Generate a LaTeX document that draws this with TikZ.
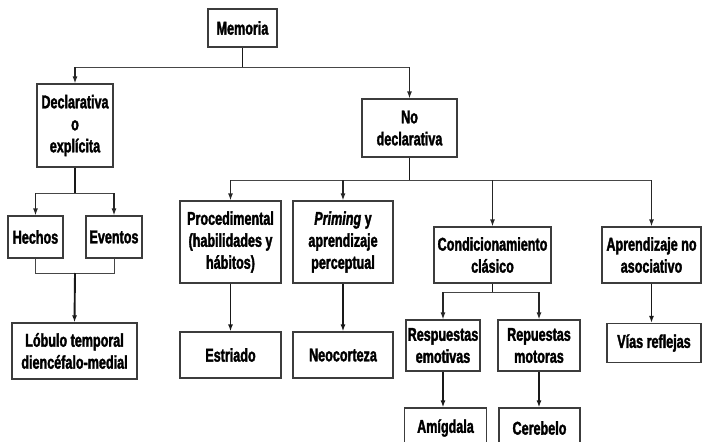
\documentclass[tikz,border=0pt]{standalone}
\usepackage{fontspec}
\newfontfamily\condfont{Liberation Sans}[FakeStretch=0.68,
  BoldFeatures={FakeBold=1.8}, BoldItalicFeatures={FakeBold=1.8}]
\usetikzlibrary{arrows.meta, positioning, calc}
\definecolor{boxline}{RGB}{60,60,60}
\definecolor{busline}{RGB}{70,70,70}
\tikzset{
  box/.style={rectangle, draw=boxline, line width=1.2pt, fill=white,
              inner sep=0pt, align=center,
              font=\condfont\bfseries\fontsize{18.5}{22}\selectfont},
  size/.style 2 args={minimum width=#1pt, minimum height=#2pt},
  stem/.style={line width=1.9pt, draw=black!90},
  bus/.style={line width=1pt, draw=busline},
  drop/.style={line width=1.2pt, draw=black!85, -{Latex[length=7pt,width=5pt]}},
  stemarrow/.style={stem, -{Latex[length=7pt,width=5pt]}},
}

\begin{document}
\begin{tikzpicture}[x=1pt, y=-1pt]
        \useasboundingbox (0,0) rectangle (702,442);
        \clip (0,0) rectangle (702,442);

        % Top level
        \node[box, size={69}{38}] (mem) at (242.5,28) {Memoria};
        \node[box, size={76}{83}] (decl) at (75,125.5) {Declarativa\\o\\expl\'icita};
        \node[box, size={95}{58}] (nodecl) at (409.5,128) {No\\declarativa};

        % Declarative branch
        \node[box, size={55}{42}] (hechos) at (35.5,237) {Hechos};
        \node[box, size={56}{42}] (eventos) at (114,237) {Eventos};
        \node[box, size={125}{56}] (lobulo) at (74.5,351) {L\'obulo temporal\\dienc\'efalo-medial};

        % Non-declarative branch
        \node[box, size={101}{82}] (proc) at (230.5,242) {Procedimental\\(habilidades y\\h\'abitos)};
        \node[box, size={100}{82}] (prim) at (343,242) {\textit{Priming} y\\aprendizaje\\perceptual};
        \node[box, size={117}{56}] (cond) at (492.5,255) {Condicionamiento\\cl\'asico};
        \node[box, size={99}{56}] (aprend) at (651.5,255) {Aprendizaje no\\asociativo};

        \node[box, size={101}{46}] (estr) at (230.5,355) {Estriado};
        \node[box, size={100}{46}] (neo) at (343,355) {Neocorteza};
        \node[box, size={74}{51}] (resp) at (443,345.5) {Respuestas\\emotivas};
        \node[box, size={82}{51}] (mot) at (539,345.5) {Repuestas\\motoras};
        \node[box, size={94}{39}] (vias) at (654,343) {V\'ias reflejas};

        \node[box, size={82}{40}] (amig) at (445.5,428) {Am\'igdala};
        \node[box, size={81}{40}] (cereb) at (539.5,428) {Cerebelo};

        % Junction points
        \coordinate (b1) at (242.5,67);
        \coordinate (b2) at (75,193);
        \coordinate (j2) at (75,273);
        \coordinate (b3) at (409.5,180);
        \coordinate (b4) at (492.5,292);

        % Memoria -> declarativa / no declarativa
        \draw[stem] (mem.south) -- (b1);
        \draw[bus] (decl.north |- b1) -- (nodecl.north |- b1);
        \draw[drop] (decl.north |- b1) -- (decl.north);
        \draw[drop] (nodecl.north |- b1) -- (nodecl.north);

        % Declarativa -> hechos / eventos -> lobulo
        \draw[stem] (decl.south) -- (b2);
        \draw[bus] (hechos.north |- b2) -- (eventos.north |- b2);
        \draw[drop] (hechos.north |- b2) -- (hechos.north);
        \draw[drop] (eventos.north |- b2) -- (eventos.north);
        \draw[bus] (hechos.south) -- (hechos.south |- j2) -- (eventos.south |- j2) -- (eventos.south);
        \draw[stemarrow] (j2) -- (lobulo.north);

        % No declarativa -> four kinds
        \draw[stem] (nodecl.south) -- (b3);
        \draw[bus] (proc.north |- b3) -- (aprend.north |- b3);
        \foreach \n in {proc,prim,cond,aprend}
          \draw[drop] (\n.north |- b3) -- (\n.north);

        \draw[stemarrow] (proc.south) -- (estr.north);
        \draw[stemarrow] (prim.south) -- (neo.north);
        \draw[stemarrow] (aprend.south) -- (aprend.south |- vias.north);

        % Condicionamiento -> respuestas
        \draw[stem] (cond.south) -- (b4);
        \draw[bus] (resp.north |- b4) -- (mot.north |- b4);
        \draw[drop] (resp.north |- b4) -- (resp.north);
        \draw[drop] (mot.north |- b4) -- (mot.north);
        \draw[stemarrow] (resp.south) -- (resp.south |- amig.north);
        \draw[stemarrow] (mot.south) -- (mot.south |- cereb.north);
      \end{tikzpicture}
\end{document}
